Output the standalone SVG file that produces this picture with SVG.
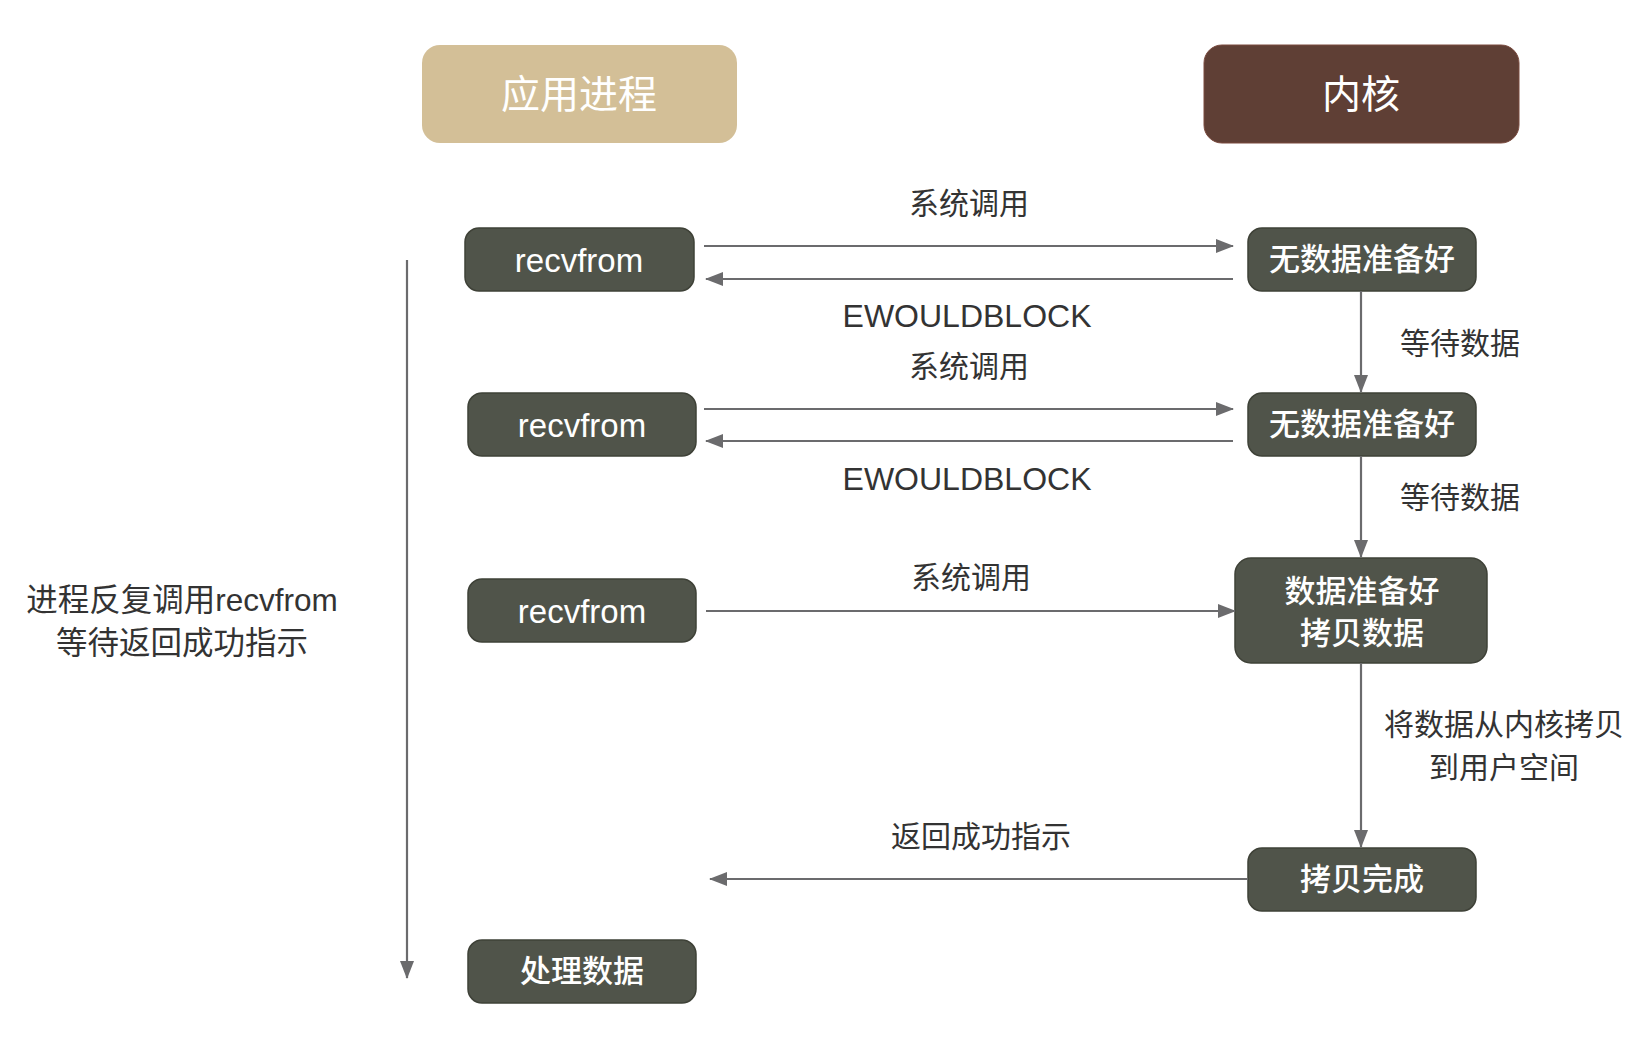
<svg xmlns="http://www.w3.org/2000/svg" width="1648" height="1058" viewBox="0 0 1648 1058">
<defs>
<marker id="ah" markerUnits="userSpaceOnUse" markerWidth="18" markerHeight="14" refX="17" refY="7" orient="auto">
<path d="M0,0 L18,7 L0,14 z" fill="#6b6b6d"/>
</marker>
<style>
.hdr text{font-family:"Noto Sans CJK SC",sans-serif;font-size:39px;fill:#ffffff;text-anchor:middle;dominant-baseline:central}
.node rect{fill:#50544a;stroke:#3e4137;stroke-width:1.5}
.node text{font-family:"Liberation Sans","Noto Sans CJK SC",sans-serif;font-size:31px;fill:#ffffff;text-anchor:middle;dominant-baseline:central;font-weight:500}
.node text.en{font-size:33px}
.lbl{font-family:"Liberation Sans","Noto Sans CJK SC",sans-serif;font-size:30px;fill:#333333;text-anchor:middle;dominant-baseline:central}
.lbl.big{font-size:32px}
.lbl.side{font-size:31.5px}
.conn line{stroke:#6b6b6d;stroke-width:2.2;marker-end:url(#ah)}
</style>
</defs>
<rect width="1648" height="1058" fill="#ffffff"/>

<g id="app" class="hdr"><rect x="422" y="45" width="315" height="98" rx="18" fill="#d3bf97"/><text x="579" y="91">应用进程</text></g>
<g id="kernel" class="hdr"><rect x="1204" y="45" width="315" height="98" rx="18" fill="#5f3f35" stroke="#7a4a3e" stroke-width="1"/><text x="1361" y="91">内核</text></g>

<g id="recv1" class="node"><rect x="465" y="228" width="229" height="63" rx="14"/><text class="en" x="579" y="260">recvfrom</text></g>
<g id="recv2" class="node"><rect x="468" y="393" width="228" height="63" rx="14"/><text class="en" x="582" y="425">recvfrom</text></g>
<g id="recv3" class="node"><rect x="468" y="579" width="228" height="63" rx="14"/><text class="en" x="582" y="611">recvfrom</text></g>
<g id="proc" class="node"><rect x="468" y="940" width="228" height="63" rx="14"/><text x="582" y="971">处理数据</text></g>

<g id="nodata1" class="node"><rect x="1248" y="228" width="228" height="63" rx="14"/><text x="1362" y="259">无数据准备好</text></g>
<g id="nodata2" class="node"><rect x="1248" y="393" width="228" height="63" rx="14"/><text x="1362" y="424">无数据准备好</text></g>
<g id="ready" class="node"><rect x="1235" y="558" width="252" height="105" rx="16"/><text x="1362" y="591">数据准备好</text><text x="1362" y="633">拷贝数据</text></g>
<g id="done" class="node"><rect x="1248" y="848" width="228" height="63" rx="14"/><text x="1362" y="879">拷贝完成</text></g>

<g id="connectors" class="conn">
<line x1="704" y1="246" x2="1233" y2="246"/>
<line x1="1233" y1="279" x2="706" y2="279"/>
<line x1="704" y1="409" x2="1233" y2="409"/>
<line x1="1233" y1="441" x2="706" y2="441"/>
<line x1="706" y1="611" x2="1235" y2="611"/>
<line x1="1248" y1="879" x2="710" y2="879"/>
<line x1="1361" y1="291" x2="1361" y2="392"/>
<line x1="1361" y1="456" x2="1361" y2="557"/>
<line x1="1361" y1="663" x2="1361" y2="847"/>
<line x1="407" y1="260" x2="407" y2="978"/>
</g>

<g id="labels">
<text class="lbl" x="969" y="203">系统调用</text>
<text class="lbl big" x="967" y="316">EWOULDBLOCK</text>
<text class="lbl" x="969" y="366">系统调用</text>
<text class="lbl big" x="967" y="479">EWOULDBLOCK</text>
<text class="lbl" x="971" y="577">系统调用</text>
<text class="lbl" x="981" y="836">返回成功指示</text>
<text class="lbl" x="1460" y="343">等待数据</text>
<text class="lbl" x="1460" y="497">等待数据</text>
<text class="lbl" x="1504" y="724">将数据从内核拷贝</text>
<text class="lbl" x="1504" y="767">到用户空间</text>
<text class="lbl side" x="182" y="600">进程反复调用recvfrom</text>
<text class="lbl side" x="182" y="643">等待返回成功指示</text>
</g>
</svg>
